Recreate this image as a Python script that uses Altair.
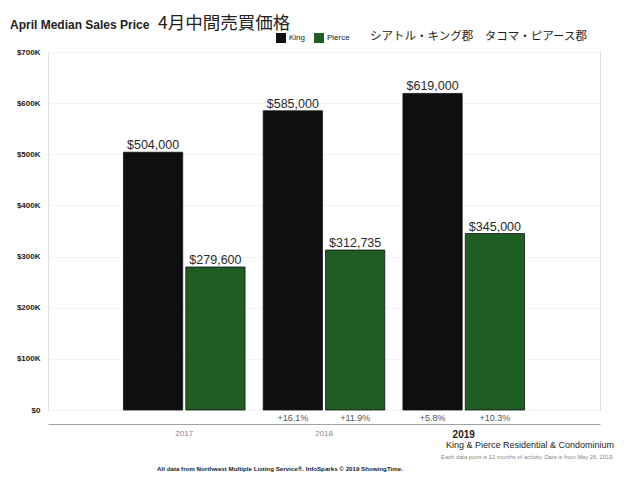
import altair as alt
import pandas as pd

years = ["2017", "2018", "2019"]
series = ["King", "Pierce"]
king = [504000, 585000, 619000]
pierce = [279600, 312735, 345000]
king_chg = ["", "+16.1%", "+5.8%"]
pierce_chg = ["", "+11.9%", "+10.3%"]
colors = ["#0e1010", "#1f5d22"]
y_ticks = [0, 100000, 200000, 300000, 400000, 500000, 600000, 700000]

rows = []
for i, yr in enumerate(years):
    rows.append({"year": yr, "area": "King", "price": king[i], "chg": king_chg[i]})
    rows.append({"year": yr, "area": "Pierce", "price": pierce[i], "chg": pierce_chg[i]})
df = pd.DataFrame(rows)
df["label"] = df["price"].map(lambda v: "${:,.0f}".format(v))

W, H = 552, 358
FONT = "Liberation Sans"

x_enc = alt.X("year:N", sort=years,
              scale=alt.Scale(paddingInner=0.13, paddingOuter=0.54),
              axis=alt.Axis(title=None, labelAngle=0, ticks=False, offset=14,
                            domainColor="#a0a0a0", domainWidth=1.2,
                            labelFont=FONT, labelPadding=5,
                            labelFontSize=alt.expr("datum.value == '2019' ? 10 : 8"),
                            labelColor=alt.expr("datum.value == '2019' ? '#222' : '#888'"),
                            labelFontWeight=alt.expr("datum.value == '2019' ? 'bold' : 'normal'")))
xo_enc = alt.XOffset("area:N", sort=series, scale=alt.Scale(paddingInner=0.05))
y_enc = alt.Y("price:Q",
              scale=alt.Scale(domain=[0, 700000], nice=False),
              axis=alt.Axis(title=None, values=y_ticks, ticks=False, domain=False,
                            labelExpr="datum.value == 0 ? '$0' : '$' + (datum.value/1000) + 'K'",
                            labelFont=FONT, labelFontSize=8, labelFontWeight="bold",
                            labelColor="#222", labelPadding=8,
                            gridColor="#f3f3f3"))
color_enc = alt.Color("area:N", sort=series,
                      scale=alt.Scale(domain=series, range=colors),
                      legend=alt.Legend(title=None, orient="none", direction="horizontal",
                                        legendX=228, legendY=-19, symbolType="square",
                                        symbolSize=100, symbolStrokeWidth=0,
                                        labelFont=FONT, labelFontSize=8, labelColor="#222",
                                        columnPadding=8, labelOffset=3))

base = alt.Chart(df)
bars = base.mark_bar(stroke="#111", strokeWidth=0.8).encode(
    x=x_enc, xOffset=xo_enc, y=y_enc, color=color_enc)
vals = base.mark_text(dy=-7, fontSize=12.5, font=FONT, color="#2a2a2a").encode(
    x=x_enc, xOffset=xo_enc, y="price:Q", text="label:N")
chg = base.mark_text(dy=8, fontSize=9, font=FONT, color="#555").encode(
    x=x_enc, xOffset=xo_enc, y=alt.datum(0), text="chg:N")

def note(txt, x, y, size, weight="normal", color="#222", align="left", font=FONT):
    return alt.Chart(pd.DataFrame({"t": [txt]})).mark_text(
        align=align, baseline="alphabetic", fontSize=size, fontWeight=weight,
        color=color, font=font).encode(x=alt.value(x), y=alt.value(y), text="t:N")

notes = [
    note("April Median Sales Price", -38, -23, 12, "bold"),
    note("4月中間売買価格", 110, -23, 17.5, font="Noto Sans CJK JP"),
    note("シアトル・キング郡　タコマ・ピアース郡", 322, -12, 11.5, font="Noto Sans CJK JP"),
    note("King & Pierce  Residential & Condominium", 566, 396, 9, color="#222", align="right"),
    note("Each data point is 12 months of activity. Data is from May 26, 2019.", 566, 407, 5.8, color="#888", align="right"),
    note("All data from Northwest Multiple Listing Service®. InfoSparks © 2019 ShowingTime.", 232, 419, 6.2, "bold", color="#222", align="center"),
]

chart = alt.layer(bars, vals, chg, *notes).properties(
    width=W, height=H,
    autosize=alt.AutoSizeParams(type="none"),
    padding={"left": 40, "top": 44, "right": 16, "bottom": 63},
).configure_view(stroke=None).configure(background="white")

chart.save("out.html", embed_options={"renderer": "svg", "actions": False})
